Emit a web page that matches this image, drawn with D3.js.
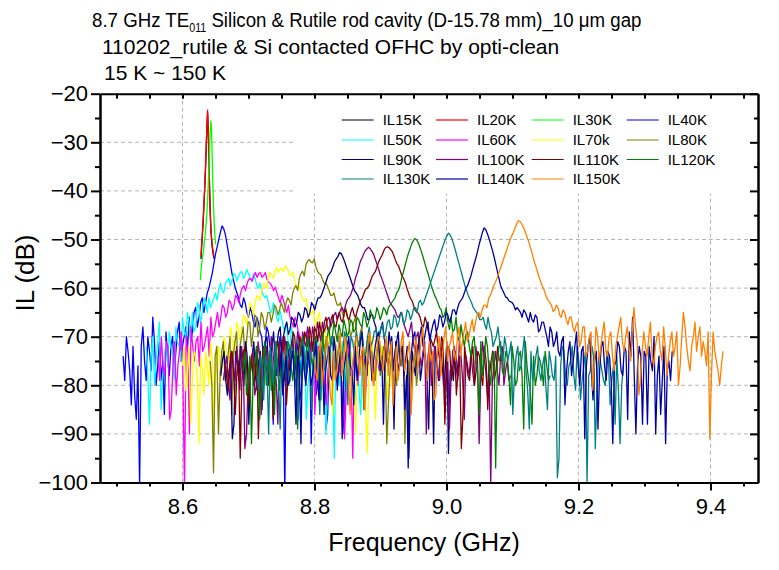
<!DOCTYPE html>
<html>
<head>
<meta charset="UTF-8">
<title>IL vs Frequency, 15 K ~ 150 K</title>
<script src="https://d3js.org/d3.v7.min.js"></script>
<style>
  body { margin: 0; background: #fff; }
  svg { font-family: Arial, "Liberation Sans", sans-serif; }
  .axis path, .axis line { stroke: #000; stroke-width: 2px; }
  .axis text { font-size: 22px; fill: #000; }
  .grid line { stroke: #b4b4b4; stroke-dasharray: 4,3; stroke-width: 1px; }
  .trace { fill: none; stroke-width: 1.3px; stroke-linejoin: round; }
  .legend text { font-size: 15px; fill: #000; }
</style>
</head>
<body>
<svg width="779" height="570"></svg>
<script>
// series names / measured span (GHz); each trace is sampled evenly across its span
const seriesNames = ["IL15K", "IL20K", "IL30K", "IL40K", "IL50K", "IL60K", "IL70k", "IL80K",
                     "IL90K", "IL100K", "IL110K", "IL120K", "IL130K", "IL140K", "IL150K"];
const startGHz = [8.628, 8.628, 8.627, 8.510, 8.545, 8.563, 8.600, 8.642,
                  8.658, 8.662, 8.665, 8.692, 8.713, 8.747, 8.799];
const stopGHz  = [8.648, 8.648, 8.650, 8.860, 8.880, 8.898, 8.920, 8.957,
                  9.018, 9.097, 9.080, 9.157, 9.268, 9.342, 9.419];

// IL (dB): main samples, and the readings half a step after each ("b")
const il15K = [-54,-51.5,-49.5,-47,-44.5,-41.5,-38.5,-35,-31,-27,-24,-27.5,-33.5,-39.5,-44.5,-48,-50,-51.5,-52.5,-53.5,-54];
const il20K = [-53.5,-51,-49,-46.5,-44,-41,-38,-34.5,-30.5,-26.5,-23.4,-27,-33,-39,-44,-47.5,-49.5,-51,-52,-53,-53.8];
const il30K = [-58.4,-56.5,-55,-54,-53,-52,-50.5,-49.5,-48,-46.5,-44.5,-42,-39,-35.5,-31.5,-28,-25.6,-27.5,-33,-38.5,-43,-46.5,-49,-51];

const il40K = [-74,-70,-77,-72,-87,-101,-68,-79,-73,-66,
               -80,-71,-75,-69,-78,-70,-73,-67,-72,-68,
               -66,-69,-64,-66,-62,-63,-60,-57,-53,-50,
               -47.2,-49,-53,-57,-60,-62,-64,-63,-66,-65,
               -68,-67,-70,-72,-69,-74,-71,-76,-73,-102,
               -72,-75,-78,-70,-81,-74,-76,-92,-73,-79,
               -75,-72,-86,-77,-74,-80,-73,-90,-76,-78,-74];
const il40Kb = [-79,-73,-84,-82,-76,-72,-75,-70,-77,-71,
                -76,-79,-86,-74,-72,-77,-69,-75,-70,-73,
                -71,-65,-68,-63,-65,-61,-58.5,-55,-51.5,-48.5,
                -47.8,-51,-55,-58.5,-61,-63.5,-62,-65,-64,-67,
                -66,-69,-74,-68,-72,-88,-78,-70,-75,-71,
                -77,-71,-74,-83,-72,-78,-70,-76,-82,-73,
                -78,-89,-71,-80,-76,-70,-85,-74,-72,-77];

const il50K = [-72,-88,-70,-75,-67,-78,-71,-69,-74,-68,
               -72,-66,-70,-67,-65,-68,-64,-65,-63,-62,
               -63,-61,-60,-60.5,-59,-58,-58.5,-57.2,-57.5,-56.6,
               -57.3,-57,-58.5,-58,-60,-60.5,-62,-63,-65,-64,
               -67,-66,-69,-71,-68,-74,-70,-77,-72,-80,
               -73,-76,-71,-83,-75,-78,-73,-95,-76,-74,
               -81,-77,-73,-79,-75,-86,-77,-74];
const il50Kb = [-78,-74,-80,-71,-85,-74,-76,-72,-79,-71,
                -75,-69,-65,-71,-69,-63,-67,-62,-65,-64,
                -62,-62.5,-59,-61,-58.5,-59.5,-57,-58.5,-56.8,-58,
                -56.2,-58,-57.2,-59.5,-59,-61.5,-61.5,-64.5,-63,-66,
                -64.5,-68,-67,-73,-70,-72,-74,-70,-87,-77,
                -79,-73,-77,-72,-90,-74,-79,-72,-80,-71,
                -75,-80,-76,-84,-81,-74,-79];

const il60K = [-74,-70,-78,-72,-85,-71,-76,-69,-102,-73,
               -68,-75,-70,-67,-72,-68,-66,-69,-65,-66,
               -64,-65,-63,-63.5,-62,-61,-59.5,-59,-58,-57.5,
               -57.8,-56.8,-57.4,-58.2,-59,-60.5,-61,-63,-62.5,-65,
               -66,-68,-67,-70,-72,-69,-75,-71,-78,-73,
               -76,-84,-74,-79,-72,-77,-75,-82,-74,-95,
               -77,-76,-73,-80,-75,-78,-74,-77];
const il60Kb = [-79,-76,-71,-87,-76,-82,-73,-77,-70,-90,
                -72,-71,-76,-73,-70,-74,-70,-67,-68,-63.5,
                -66,-62.5,-64.5,-61.5,-63,-60,-60.5,-58.2,-58.6,-56.8,
                -57,-57.8,-56.8,-58.8,-59.6,-59.8,-62,-61.5,-64,-63.5,
                -67,-66,-69,-73,-70,-72,-73,-86,-72,-79,
                -80,-77,-76,-71,-78,-73,-91,-71,-77,-74,
                -80,-74,-85,-76,-73,-80,-75];

const il70k = [-76,-81,-72,-79,-74,-92,-77,-73,-80,-75,
               -78,-72,-76,-71,-74,-70,-71,-69,-68,-66.5,
               -65,-64,-63,-62,-60.5,-59.5,-58,-57.3,-56.5,-56.8,
               -55.9,-55.6,-56.4,-57.2,-58.5,-60,-61.5,-62.5,-64,-65.5,
               -67,-66,-69,-71,-68,-74,-70,-77,-72,-75,
               -82,-73,-78,-71,-76,-80,-94,-74,-79,-72,
               -77,-74,-83,-75,-78];
const il70kb = [-72,-77,-88,-73,-79,-74,-82,-76,-71,-89,
                -74,-79,-70,-77,-68,-74,-67,-71,-65.5,-67.5,
                -63,-65.5,-61.5,-62.5,-59,-60,-56.8,-58,-55.8,-56.2,
                -56.6,-55.5,-57.4,-56.8,-59.8,-59.6,-62.5,-62.2,-65.5,-64.5,
                -68,-65,-72,-68,-71,-86,-72,-73,-79,-71,
                -76,-80,-90,-77,-73,-85,-76,-70,-87,-75,
                -72,-79,-73,-80];

const il80K = [-75,-98,-72,-78,-71,-77,-70,-74,-69,-72,
               -68,-71,-67,-69,-66,-68,-66,-67,-65,-65.5,
               -64,-64.5,-64,-63,-62.5,-61,-59.5,-58,-56.5,-55.2,
               -54.1,-54.8,-55.6,-57,-58.2,-59,-60.5,-61.5,-62.5,-63.5,
               -65,-64,-67,-69,-66,-72,-68,-75,-70,-73,
               -79,-71,-76,-73,-84,-74,-78,-71,-76,-92,
               -75,-79,-73,-77];
const il80Kb = [-80,-74,-90,-73,-79,-73,-86,-71,-78,-70,
                -74,-67,-72,-65.5,-70,-65,-68.5,-65,-67,-63.5,
                -65.5,-63,-65,-62,-63.5,-60,-60.5,-57,-57.5,-54.5,
                -54.6,-54,-56.5,-57.2,-59,-59.5,-61.5,-61,-63.5,-63,
                -66,-65.5,-70,-67,-70,-69,-85,-71,-74,-77,
                -74,-78,-72,-92,-77,-75,-80,-74,-71,-78,
                -84,-76,-80];

const il90K = [-78,-73,-82,-75,-88,-76,-72,-80,-74,-77,
               -71,-81,-73,-76,-70,-74,-69,-72,-68,-70,
               -67,-68.5,-66.5,-67,-65.5,-66,-64.5,-65,-63.5,-63,
               -62,-60.5,-58.5,-57,-55.5,-54,-52.7,-53.6,-55.5,-57.5,
               -59.5,-61,-62.5,-64,-65,-66.5,-65.5,-68,-70,-67,
               -72,-69,-74,-71,-77,-72,-75,-95,-73,-78,
               -71,-76,-74,-89,-75,-72,-79,-74,-77,-94,
               -76,-73,-78];
const il90Kb = [-75,-79,-77,-91,-73,-79,-77,-71,-88,-74,
                -78,-75,-85,-71,-77,-72,-75,-69,-73,-68,
                -69.5,-66,-68,-65,-67,-64,-66,-63,-64.5,-62,
                -61.5,-59.5,-57.5,-56.5,-54.5,-53.5,-52.9,-54.5,-56.5,-58.5,
                -60.5,-61.5,-63.5,-64,-66.5,-65.5,-67,-71,-68.5,-70,
                -74,-72,-89,-75,-73,-78,-72,-80,-76,-73,
                -79,-73,-78,-71,-92,-76,-73,-80,-71,-77,-79,-75];

const il100K = [-79,-74,-83,-76,-72,-81,-75,-90,-77,-73,
                -80,-74,-78,-72,-76,-73,-79,-71,-74,-72,
                -75,-70,-73,-71,-69,-72,-70,-68,-71,-69,
                -67,-68,-66,-67,-65,-65.5,-64,-63.5,-62,-60.5,
                -58,-55.8,-53.8,-52.3,-51.6,-52.4,-54,-56,-58,-60,
                -62,-63.5,-64.5,-66,-65,-68,-70,-67,-73,-69,
                -76,-71,-74,-80,-72,-77,-73,-84,-75,-78,
                -72,-79,-74,-87,-76,-73,-80,-75,-78,-74,
                -82,-101,-76,-77,-74,-80,-75,-78];
const il100Kb = [-76,-80,-73,-79,-77,-72,-93,-79,-74,-82,
                 -71,-86,-75,-79,-70,-77,-88,-78,-70,-77,
                 -72,-76,-69,-74,-71,-68,-73,-70,-67,-71,
                 -69,-66.5,-68,-65.5,-66.5,-64.5,-65,-62.5,-61.5,-59.5,
                 -57,-54.5,-53,-51.9,-51.9,-53,-55,-57.2,-59,-61,
                 -63,-64,-65.5,-65.5,-67,-69,-68.5,-71,-70,-74,
                 -73,-90,-71,-76,-75,-79,-71,-77,-89,-73,
                 -76,-71,-79,-74,-78,-77,-72,-92,-71,-77,
                 -75,-79,-73,-80,-72,-77,-79];

const il110K = [-76,-81,-73,-86,-75,-79,-72,-84,-74,-78,
                -91,-76,-73,-80,-74,-77,-71,-75,-72,-78,
                -73,-70,-74,-71,-69,-72,-70,-68,-71,-69,
                -67,-68.5,-66.5,-67.5,-66,-66.5,-65,-66,-65,-65.5,
                -64.5,-62.5,-61,-60,-58.5,-57,-55.5,-53.8,-52.3,-51.5,
                -52,-53.2,-55,-56.5,-58,-60,-62,-63.5,-65,-66,
                -68,-67,-70,-72,-69,-75,-71,-78,-73,-76,
                -82,-74,-86,-75,-79,-72,-77,-74,-80,-75,
                -78,-73,-77,-75];
const il110Kb = [-79,-74,-78,-77,-95,-73,-77,-78,-80,-72,
                 -79,-72,-77,-75,-87,-72,-78,-70,-84,-74,
                 -69,-75,-70,-73,-70,-68,-73,-69,-67,-70.5,
                 -66,-69,-65.5,-68,-65,-67,-64.5,-66.5,-64,-66,
                 -63.5,-62,-60.2,-59.5,-57.5,-56.5,-54.5,-53.2,-51.7,-51.6,
                 -52.4,-54.2,-55.5,-57.5,-58.8,-61,-62.5,-64.5,-65.2,-67.5,
                 -66,-69,-71,-70.5,-73,-70,-88,-72,-79,-73,
                 -77,-93,-72,-78,-74,-80,-73,-78,-72,-85,
                 -75,-79,-72];

const il120K = [-77,-82,-74,-79,-72,-87,-75,-80,-73,-77,
                -71,-81,-74,-76,-72,-79,-73,-75,-70,-74,
                -72,-76,-70,-73,-69,-71,-68,-70,-69,-67.5,
                -70,-68,-69,-67,-68.5,-66.5,-68,-66,-67,-65.5,
                -66,-65,-65.5,-64.5,-64,-63,-62,-60.5,-58,-55.5,
                -53,-51,-49.8,-50.6,-52.5,-54.8,-57,-59.5,-61.5,-63,
                -64.5,-65.5,-67,-66,-68.5,-70,-67.5,-72,-69,-74,
                -70,-77,-71,-75,-72,-80,-73,-76,-71,-78,
                -74,-84,-75,-79,-73,-89,-76,-81,-74,-78,
                -75,-80,-76,-78];
const il120Kb = [-73,-78,-92,-75,-78,-80,-71,-77,-81,-86,
                 -77,-75,-79,-71,-76,-75,-89,-72,-77,-70,
                 -74,-72,-75,-83,-73,-70,-72,-67,-71,-69,
                 -66.5,-70,-66.5,-69,-66,-67.5,-65,-68,-64.5,-66.5,
                 -64,-66.5,-64,-65.5,-63.5,-62.5,-61,-59.5,-56.8,-54.2,
                 -52,-50.3,-50,-51.5,-53.6,-56,-58.2,-60.5,-62.2,-64,
                 -66,-64,-68.5,-69,-66,-71,-70,-69.5,-72,-71,
                 -75,-86,-78,-70,-77,-74,-97,-72,-77,-73,
                 -78,-72,-80,-74,-78,-71,-79,-88,-80,-74,
                 -77,-73,-79];

const il130K = [-78,-74,-83,-76,-72,-80,-75,-89,-77,-73,
                -79,-74,-82,-75,-71,-78,-73,-76,-72,-86,
                -74,-70,-75,-72,-77,-71,-73,-70,-74,-71,
                -69,-72,-70,-73,-68,-71,-68.5,-70,-67.5,-69,
                -66.5,-68,-66,-67,-65.5,-66.5,-65,-65.5,-64,-63,
                -63.5,-62,-60,-58,-56,-54,-52,-50,-48.7,-49.8,
                -52,-54.5,-57,-59.5,-61.5,-63,-64.5,-65.5,-66.5,-67.5,
                -66,-69,-71,-68,-73,-70,-75,-71,-78,-72,
                -76,-70,-81,-73,-77,-72,-79,-74,-85,-75,
                -79,-99,-76,-73,-80,-75,-78,-72,-83,-76,
                -100,-77,-74,-81,-75,-79,-73,-84,-76,-74,-92,-76];
const il130Kb = [-81,-76,-74,-90,-77,-71,-79,-73,-75,-80,
                 -72,-78,-87,-79,-75,-72,-85,-71,-77,-73,
                 -77,-73,-70,-76,-73,-75,-69,-84,-70,-74,
                 -71,-69,-74,-70,-72,-69,-71.5,-68,-70.5,-67,
                 -68.5,-65.5,-68,-65,-67.5,-64.5,-66.5,-64,-65,-62.5,
                 -63,-61,-59,-57,-55,-53,-51,-49.3,-49,-50.8,
                 -53.3,-55.8,-58.3,-60.5,-62.3,-64,-65,-66.5,-66,-68.5,
                 -68,-72,-70,-71,-75,-72,-73,-86,-74,-77,
                 -73,-77,-89,-79,-74,-77,-76,-80,-73,-78,
                 -74,-95,-72,-78,-76,-72,-81,-75,-79,-73,
                 -78,-72,-93,-74,-77,-80,-75,-79,-88,-81,-80];

const il140K = [-77,-82,-74,-79,-73,-88,-76,-72,-80,-75,
                -78,-71,-83,-74,-77,-72,-79,-73,-76,-91,
                -74,-70,-77,-72,-75,-69,-74,-71,-79,-72,
                -69,-74,-71,-76,-70,-73,-69,-72,-85,-97,
                -73,-69,-72,-68,-70,-67,-69,-66.5,-68,-66,
                -67,-65.5,-66,-64.5,-64,-62.5,-61,-59.5,-57.5,-55,
                -52.5,-49.8,-47.6,-48.8,-51,-53.5,-56.5,-59.5,-61,-62,
                -62.8,-63.5,-64,-65,-64.5,-66,-65,-67,-66,-68.5,
                -67,-70,-68,-72,-69,-74,-70,-77,-71,-75,
                -69,-80,-72,-76,-70,-83,-73,-77,-71,-79,
                -74,-92,-75,-72,-78,-73,-69,-66,-90,-72,
                -88,-74,-72,-77,-90,-74,-79,-92,-75,-73];
const il140Kb = [-73,-78,-80,-75,-78,-74,-92,-77,-73,-80,
                 -75,-79,-72,-86,-74,-78,-70,-81,-73,-77,
                 -72,-76,-84,-79,-71,-76,-78,-73,-75,-70,
                 -77,-88,-75,-73,-77,-71,-76,-74,-78,-75,
                 -70,-74,-70,-72,-68,-71,-67.5,-69,-65.5,-68,
                 -65,-67,-64.5,-65.5,-63,-62,-60,-58.5,-56.2,-53.8,
                 -51,-48.5,-48,-49.8,-52.2,-55,-58,-60.3,-61.8,-62.6,
                 -63,-64.5,-64.5,-66,-65,-67,-66.5,-65.5,-69,-67,
                 -68.5,-72,-69,-71,-73,-71,-84,-73,-78,-72,
                 -76,-73,-91,-72,-77,-75,-89,-72,-76,-73,
                 -79,-76,-71,-77,-72,-87,-74,-78,-76,-74,
                 -73,-88,-75,-70,-78,-86,-72,-77,-79];

const il150K = [-74,-79,-71,-76,-70,-82,-73,-77,-69,-75,
                -72,-86,-74,-70,-78,-72,-76,-69,-80,-73,
                -71,-77,-70,-74,-84,-72,-76,-69,-75,-71,
                -78,-70,-74,-68,-76,-71,-73,-82,-70,-74,
                -68,-72,-69,-75,-68,-71,-67,-70,-66.5,-67,
                -65,-64.5,-63.5,-62,-60.5,-58.8,-57,-55,-53,-51,
                -49.2,-47.5,-46.1,-46.8,-48.3,-50.2,-52.5,-55,-57.2,-59.2,
                -60.8,-62.5,-63.5,-64.5,-64,-66,-65,-67.5,-66,-69,
                -67,-71,-68,-73,-69,-76,-70,-72,-67,-74,
                -69,-77,-70,-66,-73,-68,-75,-64,-71,-79,
                -69,-74,-67,-76,-70,-73,-68,-78,-71,-74,
                -69,-76,-65,-72,-77,-70,-73,-68,-71,-76,
                -91,-69,-75,-80,-73];
const il150Kb = [-77,-73,-80,-72,-76,-84,-79,-72,-78,-70,
                 -79,-77,-71,-75,-73,-85,-71,-75,-77,-70,
                 -75,-73,-78,-71,-76,-79,-71,-77,-73,-86,
                 -73,-77,-71,-73,-79,-75,-83,-72,-78,-70,
                 -75,-71,-73,-70,-74,-69,-71,-68,-69,-65.5,
                 -66,-63.5,-64,-61.5,-59.5,-58,-56,-54,-52,-50,
                 -48.5,-46.8,-46.3,-47.5,-49.3,-51.3,-53.8,-56,-58.2,-60,
                 -61.8,-63,-64.8,-63.5,-65.5,-64.5,-66.5,-66,-68,-67.5,
                 -72,-68,-74,-70,-81,-68,-75,-69,-73,-70,
                 -74,-72,-68,-71,-70,-72,-69,-68,-82,-73,
                 -72,-70,-74,-72,-69,-75,-72,-74,-69,-72,
                 -80,-70,-68,-75,-72,-67,-70,-74,-73,-69,
                 -78,-73,-77,-76];

const seriesValues = [il15K, il20K, il30K, il40K, il50K, il60K, il70k, il80K,
                      il90K, il100K, il110K, il120K, il130K, il140K, il150K];
const seriesHalf = [null, null, null, il40Kb, il50Kb, il60Kb, il70kb, il80Kb,
                    il90Kb, il100Kb, il110Kb, il120Kb, il130Kb, il140Kb, il150Kb];

const xTicks = [8.6, 8.8, 9.0, 9.2, 9.4];
const xMinor = [8.5, 8.55, 8.65, 8.7, 8.75, 8.85, 8.9, 8.95, 9.05, 9.1, 9.15, 9.25, 9.3, 9.35, 9.45];
const yTicks = [-100, -90, -80, -70, -60, -50, -40, -30, -20];
const yMinor = [-95, -85, -75, -65, -55, -45, -35, -25];

// Origin default colour order
const colors = ["#000000", "#FF0000", "#00FF00", "#0000FF", "#00FFFF", "#FF00FF", "#FFFF00", "#808000",
                "#000080", "#800080", "#800000", "#008000", "#008080", "#0000A0", "#FF8000"];

const L = 100, R = 758, T = 93.7, B = 482.5;
const svg = d3.select("svg");

const x = d3.scaleLinear().domain([8.475, 9.472]).range([L, R]);
const y = d3.scaleLinear().domain([-100, -20]).range([B, T]);

// title (first line is set narrower than the other two)
const t1 = svg.append("g").attr("transform", "translate(92,27) scale(0.89,1)")
    .append("text").style("font-size", "21px");
t1.append("tspan").text("8.7 GHz TE");
t1.append("tspan").attr("dy", 5).style("font-size", "12px").text("011");
t1.append("tspan").attr("dy", -5).text(" Silicon & Rutile rod cavity (D-15.78 mm)_10 \u03bcm gap");
svg.append("text").attr("x", 102).attr("y", 54).style("font-size", "21px")
    .text("110202_rutile & Si contacted OFHC by opti-clean");
svg.append("text").attr("x", 104).attr("y", 80).style("font-size", "21px")
    .text("15 K ~ 150 K");

// grid
const grid = svg.append("g").attr("class", "grid");
grid.selectAll(".gx").data(xTicks).enter().append("line")
    .attr("x1", d => x(d)).attr("x2", d => x(d)).attr("y1", T).attr("y2", B);
grid.selectAll(".gy").data(yTicks.slice(1, -1)).enter().append("line")
    .attr("x1", L).attr("x2", R).attr("y1", d => y(d)).attr("y2", d => y(d));

// legend background hides the grid behind it
svg.append("rect").attr("x", 295).attr("y", T + 1).attr("width", R - 296).attr("height", 193 - T)
    .attr("fill", "#fff");

// traces
svg.append("clipPath").attr("id", "clip").append("rect")
    .attr("x", L).attr("y", T).attr("width", R - L).attr("height", B - T);

const line = d3.line().x(d => x(d[0])).y(d => y(d[1]));
const plot = svg.append("g").attr("clip-path", "url(#clip)");
seriesValues.forEach((vals, k) => {
    const n = vals.length;
    const step = (stopGHz[k] - startGHz[k]) / (n - 1);
    const half = seriesHalf[k];
    const pts = [];
    vals.forEach((v, i) => {
        pts.push([startGHz[k] + i * step, v]);
        if (half && i < n - 1) pts.push([startGHz[k] + (i + 0.5) * step, half[i]]);
    });
    plot.append("path").attr("class", "trace")
        .attr("stroke", colors[k])
        .attr("d", line(pts));
});

// axes
const fmt = d3.format(".1f");
svg.append("g").attr("class", "axis").attr("transform", `translate(0,${B})`)
    .call(d3.axisBottom(x).tickValues(xTicks).tickFormat(fmt).tickSize(8).tickSizeOuter(0).tickPadding(8));
svg.append("g").attr("class", "axis").attr("transform", `translate(0,${B})`)
    .call(d3.axisBottom(x).tickValues(xMinor).tickFormat("").tickSize(4).tickSizeOuter(0));
svg.append("g").attr("class", "axis").attr("transform", `translate(0,${T})`)
    .call(d3.axisTop(x).tickValues(xTicks.concat(xMinor)).tickFormat("").tickSize(-5).tickSizeOuter(0));
svg.append("g").attr("class", "axis").attr("transform", `translate(${L},0)`)
    .call(d3.axisLeft(y).tickValues(yTicks).tickSize(9).tickSizeOuter(0).tickPadding(3));
svg.append("g").attr("class", "axis").attr("transform", `translate(${L},0)`)
    .call(d3.axisLeft(y).tickValues(yMinor).tickFormat("").tickSize(5).tickSizeOuter(0));
svg.append("g").attr("class", "axis").attr("transform", `translate(${R},0)`)
    .call(d3.axisRight(y).tickValues(yTicks).tickFormat("").tickSize(-8).tickSizeOuter(0));
svg.append("g").attr("class", "axis").attr("transform", `translate(${R},0)`)
    .call(d3.axisRight(y).tickValues(yMinor).tickFormat("").tickSize(-4).tickSizeOuter(0));

// axis titles
svg.append("text").attr("x", 424).attr("y", 551).attr("text-anchor", "middle")
    .style("font-size", "25px").text("Frequency (GHz)");
svg.append("text").attr("transform", "translate(34,273) rotate(-90)").attr("text-anchor", "middle")
    .style("font-size", "26px").text("IL (dB)");

// legend, 4 columns
const legCols = [341.7, 436, 531.7, 626.7];
const legRows = [120, 140, 159.5, 179];
const leg = svg.append("g").attr("class", "legend");
seriesNames.forEach((name, k) => {
    const cx = legCols[k % 4], cy = legRows[Math.floor(k / 4)];
    leg.append("line").attr("x1", cx).attr("x2", cx + 32).attr("y1", cy).attr("y2", cy)
        .attr("stroke", colors[k]).attr("stroke-width", 1.2);
    leg.append("text").attr("x", cx + 41).attr("y", cy + 5.4).text(name);
});
</script>
</body>
</html>
